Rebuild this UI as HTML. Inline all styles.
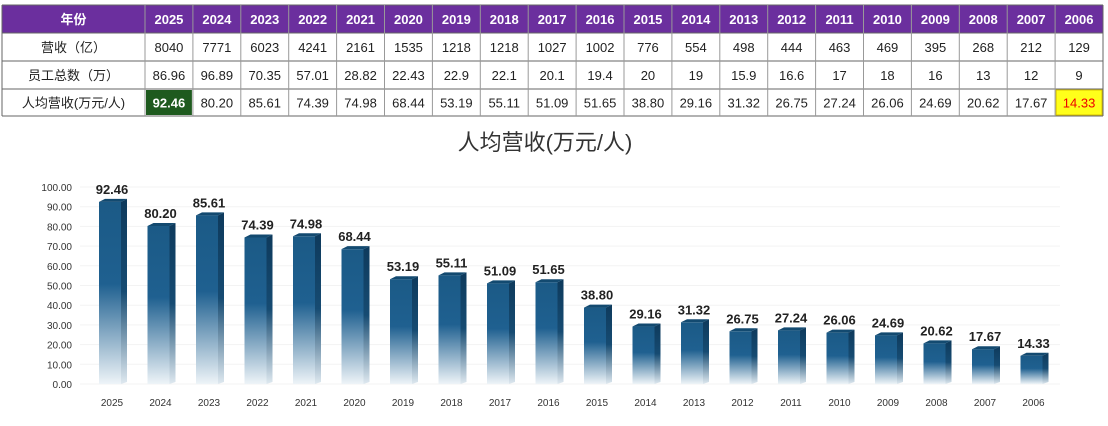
<!DOCTYPE html>
<html><head><meta charset="utf-8"><style>
html,body{margin:0;padding:0;background:#fff;width:1108px;height:426px;overflow:hidden}
svg{display:block}
text{font-family:"Liberation Sans","Noto Sans CJK SC",sans-serif}
</style></head><body>
<svg id="s" width="1108" height="426" viewBox="0 0 1108 426" xmlns="http://www.w3.org/2000/svg">
<defs>
<linearGradient id="gf" x1="0" y1="0" x2="0" y2="1">
<stop offset="0" stop-color="#1b5a86"/><stop offset="0.45" stop-color="#1f6090"/><stop offset="1" stop-color="#eef4f8"/></linearGradient>
<linearGradient id="gs" x1="0" y1="0" x2="0" y2="1">
<stop offset="0" stop-color="#0e3a5c"/><stop offset="0.5" stop-color="#164b72"/><stop offset="1" stop-color="#dfe9f0"/></linearGradient>
</defs>
<g id="table"></g>
<text x="545" y="150" text-anchor="middle" font-size="22" fill="#333">人均营收(万元/人)</text>
<g id="chart"></g>
</svg>
<script>
const years=["2025","2024","2023","2022","2021","2020","2019","2018","2017","2016","2015","2014","2013","2012","2011","2010","2009","2008","2007","2006"];
const revenue=["8040","7771","6023","4241","2161","1535","1218","1218","1027","1002","776","554","498","444","463","469","395","268","212","129"];
const staff=["86.96","96.89","70.35","57.01","28.82","22.43","22.9","22.1","20.1","19.4","20","19","15.9","16.6","17","18","16","13","12","9"];
const perCapita=[92.46,80.20,85.61,74.39,74.98,68.44,53.19,55.11,51.09,51.65,38.80,29.16,31.32,26.75,27.24,26.06,24.69,20.62,17.67,14.33];
const yTicks=[0,10,20,30,40,50,60,70,80,90,100];
const NS="http://www.w3.org/2000/svg";
function mk(tag,attrs,parent,txt){const e=document.createElementNS(NS,tag);for(const k in attrs)e.setAttribute(k,attrs[k]);if(txt!==undefined)e.textContent=txt;parent.appendChild(e);return e;}
const T=document.getElementById('table');
const rowsY=[5,33,61,89,116];const c0=2,c1=145,cw=47.9;
const rowLabels=["年份","营收（亿）","员工总数（万）","人均营收(万元/人)"];
mk('rect',{x:c0,y:rowsY[0],width:1103-c0,height:rowsY[1]-rowsY[0],fill:'#6b2f9e'},T);
for(let r=0;r<4;r++){
  const y0=rowsY[r],y1=rowsY[r+1],cy=(y0+y1)/2+5;
  let t=mk('text',{x:(c0+c1)/2,y:cy,'text-anchor':'middle','font-size':13,fill:r==0?'#fff':'#222','font-weight':r==0?'bold':'normal'},T,rowLabels[r]);
  
  
  for(let i=0;i<20;i++){
    const x0=c1+i*cw;
    let val=r==0?years[i]:r==1?revenue[i]:r==2?staff[i]:perCapita[i].toFixed(2);
    let fill=r==0?'#fff':'#222';
    if(r==3&&i==0){mk('rect',{x:x0+1,y:y0+1,width:cw-2,height:y1-y0-2,fill:'#1e5a1e'},T);fill='#fff';}
    if(r==3&&i==19){mk('rect',{x:x0+1,y:y0+1,width:cw-2,height:y1-y0-2,fill:'#ffff1a',stroke:'#d8c000'},T);fill='#e00';}
    const c=mk('text',{x:x0+cw/2,y:cy,'text-anchor':'middle','font-size':13,fill:fill,'font-weight':(r==0||(r==3&&i==0))?'bold':'normal'},T,val);
    
    
  }
}
for(let r=0;r<5;r++)mk('line',{x1:c0,x2:1103,y1:rowsY[r],y2:rowsY[r],stroke:'#666','stroke-width':1},T);
for(let i=0;i<=21;i++){const x=i==0?c0:c1+(i-1)*cw;mk('line',{x1:x,x2:x,y1:rowsY[0],y2:rowsY[4],stroke:i==0||i==21?'#666':'#999'},T);}
const C=document.getElementById('chart');
const y0px=384,ppu=1.97;
const yS=v=>y0px-v*ppu;
const xS=i=>112+i*48.5;
yTicks.forEach(v=>{
  mk('line',{x1:80,x2:1060,y1:yS(v),y2:yS(v),stroke:'#f3f3f3'},C);
  const t=mk('text',{x:72,y:yS(v)+4,'text-anchor':'end','font-size':10,fill:'#333'},C,v.toFixed(2));
  
  
});
perCapita.forEach((v,i)=>{
  const cx=xS(i),w=22,d=6,top=yS(v),lx=cx-13;
  const g=mk('g',{},C);
  
  
  mk('rect',{x:lx,y:top,width:w,height:y0px-top,fill:'url(#gf)'},g);
  mk('polygon',{points:`${lx+w},${top} ${lx+w+d},${top-3} ${lx+w+d},${y0px-2} ${lx+w},${y0px}`,fill:'url(#gs)'},g);
  mk('polygon',{points:`${lx},${top} ${lx+d},${top-3} ${lx+w+d},${top-3} ${lx+w},${top}`,fill:'#134a70'},g);
  const l=mk('text',{x:cx,y:top-8,'text-anchor':'middle','font-size':13,'font-weight':'bold',fill:'#222'},C,v.toFixed(2));
  
  
  const xl=mk('text',{x:cx,y:406,'text-anchor':'middle','font-size':10,fill:'#333'},C,years[i]);
  
  
});
</script>
</body></html>
